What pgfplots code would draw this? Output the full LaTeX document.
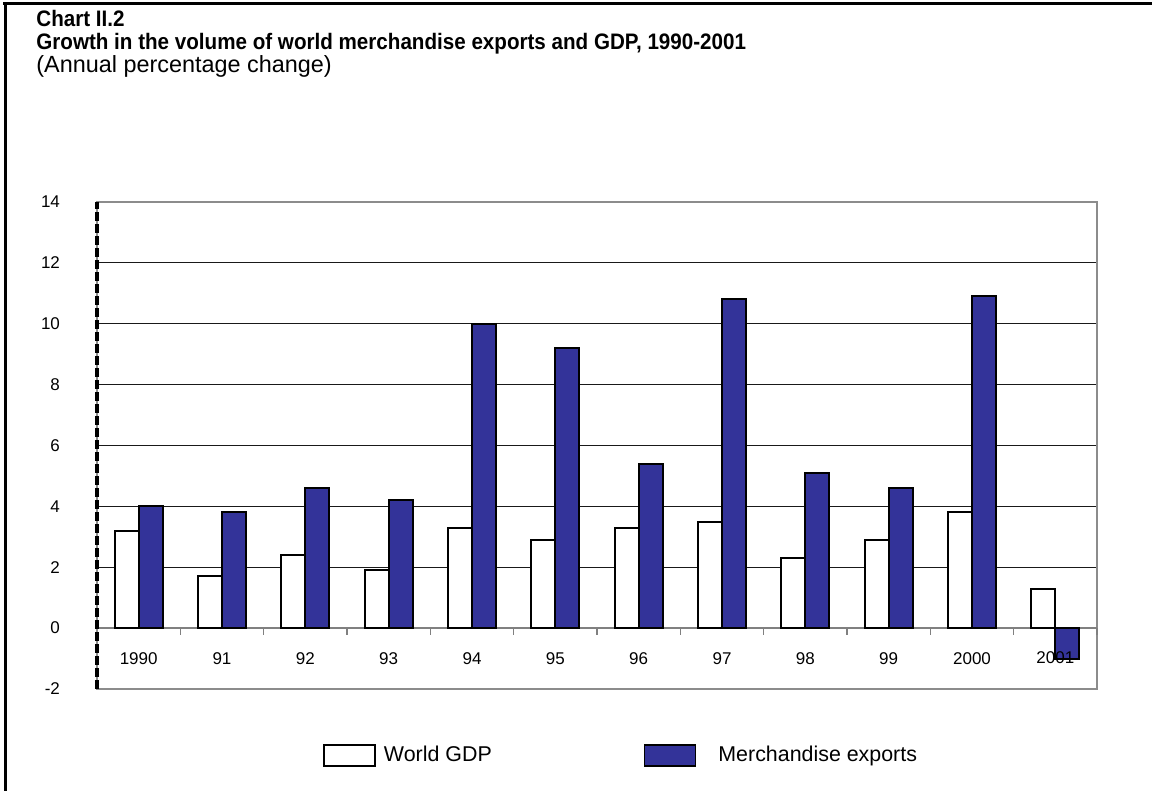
\documentclass[border=0pt]{standalone}
\usepackage{fontspec}
\setmainfont{Liberation Sans}
\usepackage{pgfplots}
\pgfplotsset{compat=1.18}
\definecolor{expblue}{HTML}{333399}
\begin{document}
\begin{tikzpicture}
\useasboundingbox (0,0) rectangle (576pt,395.5pt);
% outer frame (top and left)
\draw[line width=1.5pt] (1.5pt,393.5pt) -- (576pt,393.5pt);
\draw[line width=1.5pt] (2.5pt,393.5pt) -- (2.5pt,0pt);
% titles
\node[anchor=base west, inner sep=0pt, font=\fontsize{11.2}{13}\selectfont\bfseries\addfontfeature{FakeStretch=0.92}] at (18pt,382pt) {Chart II.2};
\node[anchor=base west, inner sep=0pt, font=\fontsize{11.2}{13}\selectfont\bfseries\addfontfeature{FakeStretch=0.92}] at (18pt,370.5pt) {Growth in the volume of world merchandise exports and GDP, 1990-2001};
\node[anchor=base west, inner sep=0pt, font=\fontsize{11.7}{13}\selectfont] at (18pt,359pt) {(Annual percentage change)};
\begin{axis}[
  at={(48.5pt,51pt)}, anchor=south west,
  scale only axis, width=500pt, height=243.5pt,
  xmin=-0.5, xmax=11.5, ymin=-2, ymax=14,
  clip=false,
  ytick={-2,0,2,4,6,8,10,12,14},
  xtick={0,1,2,3,4,5,6,7,8,9,10,11},
  xticklabels={1990,91,92,93,94,95,96,97,98,99,2000,{}},
  /pgf/number format/assume math mode=true,
  tick style={draw=none},
  ymajorgrids, grid style={black!90, line width=0.5pt},
  axis line style={black!45, line width=1pt},
  ticklabel style={font=\fontsize{8.5}{10}\selectfont},
  yticklabel style={anchor=east, xshift=-15pt},
  xticklabel style={anchor=center, yshift=19.5pt},
  ybar, bar width=0.288,
  legend style={at={(rel axis cs:0.226,-0.137)}, anchor=west, draw=none, fill=none, inner sep=0pt,
    font=\fontsize{10.7}{12}\selectfont,
    /tikz/every even column/.append style={column sep=74pt}},
  legend columns=2,
  legend image code/.code={\draw[#1, line width=0.8pt] (0pt,-5.25pt) rectangle (25.5pt,5.25pt);},
]
\addplot[sharp plot, black!50, line width=0.8pt, forget plot] coordinates {(-0.5,0) (11.5,0)};
\addplot[ycomb, black!50, line width=0.6pt, forget plot] coordinates {(0.5,-0.22) (1.5,-0.22) (2.5,-0.22) (3.5,-0.22) (4.5,-0.22) (5.5,-0.22) (6.5,-0.22) (7.5,-0.22) (8.5,-0.22) (9.5,-0.22) (10.5,-0.22) (11.5,-0.22)};
\addplot[bar shift=-0.144, fill=white, draw=black, line width=1pt] coordinates {
(0,3.2) (1,1.7) (2,2.4) (3,1.9) (4,3.3) (5,2.9) (6,3.3) (7,3.5) (8,2.3) (9,2.9) (10,3.8) (11,1.3)};
\addlegendentry{\hspace{2pt}World GDP}
\addplot[bar shift=0.144, fill=expblue, draw=black, line width=1pt] coordinates {
(0,4.0) (1,3.8) (2,4.6) (3,4.2) (4,10.0) (5,9.2) (6,5.4) (7,10.8) (8,5.1) (9,4.6) (10,10.9) (11,-1.0)};
\addlegendentry{\hspace{9pt}Merchandise exports}
\draw[black, line width=1.6pt, dash pattern=on 4.5pt off 1.5pt] (rel axis cs:0,0) -- (rel axis cs:0,1);
\node[anchor=center, inner sep=0pt, yshift=15.5pt, font=\fontsize{8.5}{10}\selectfont] at (axis cs:11,-2) {2001};
\end{axis}
\end{tikzpicture}
\end{document}
